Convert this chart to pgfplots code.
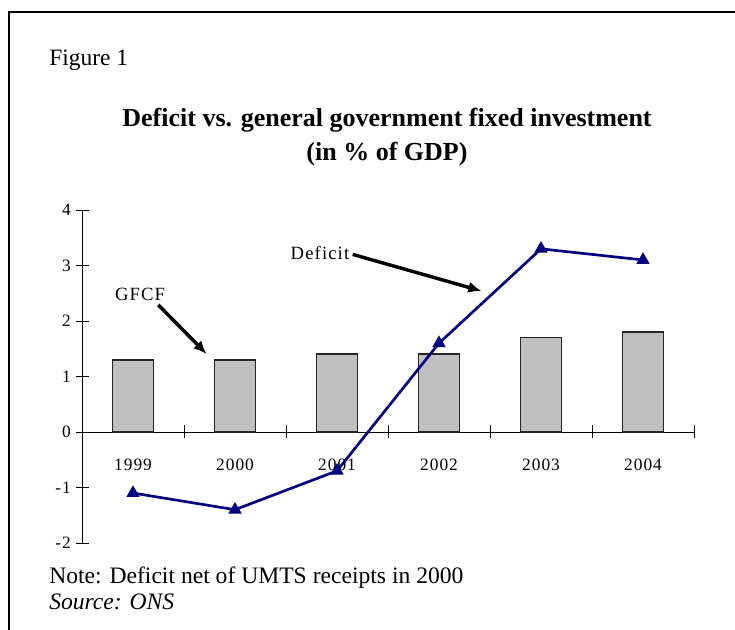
\documentclass[border=0pt]{standalone}
\usepackage{fontspec}
\setmainfont{Liberation Serif}
\usepackage{pgfplots}
\pgfplotsset{compat=1.18}
\usetikzlibrary{arrows.meta}
\definecolor{barfill}{RGB}{192,192,192}
\definecolor{navyline}{RGB}{0,0,128}
\newfontfamily\garafont[LetterSpace=6]{Liberation Serif}
\begin{document}
\begin{tikzpicture}[x=0.75pt,y=0.75pt]
\path[use as bounding box] (0,0) rectangle (735,630);
\draw[line width=1.5pt] (9,0) -- (9,618) -- (735,618);
\node[anchor=base west, font=\fontsize{17.6}{20}\selectfont, inner sep=0] at (49,564) {Figure 1};
\node[anchor=base, font=\fontsize{19.5}{22}\selectfont\bfseries, inner sep=0] at (387,503) {Deficit vs. general government fixed investment};
\node[anchor=base, font=\fontsize{19.5}{22}\selectfont\bfseries, inner sep=0] at (387,469) {(in \% of GDP)};
\node[anchor=base west, font=\fontsize{17.7}{20}\selectfont, inner sep=0] at (49,46) {Note: Deficit net of UMTS receipts in 2000};
\node[anchor=base west, font=\fontsize{17.7}{20}\selectfont\itshape, inner sep=0] at (49,20) {Source: ONS};
\begin{axis}[
  at={(61.5pt,65.25pt)}, anchor=south west,
  scale only axis, width=459pt, height=249.75pt,
  xmin=-0.5, xmax=5.5, ymin=-2, ymax=4,
  axis x line=middle, axis y line=left,
  axis line style={-, black, line width=0.6pt},
  xtick={0,1,2,3,4,5},
  xticklabels={1999,2000,2001,2002,2003,2004},
  major x tick style={draw=none},
  minor xtick={-0.5,0.5,1.5,2.5,3.5,4.5,5.5},
  ytick={-2,-1,0,1,2,3,4},
  tick align=center,
  major tick length=9.75pt, minor tick length=9.75pt,
  tick style={black, line width=0.6pt},
  ticklabel style={font=\garafont\fontsize{13}{15}\selectfont},
  /pgf/number format/assume math mode=true,
  hide obscured x ticks=false, hide obscured y ticks=false,
  xticklabel style={yshift=-12pt},
  clip=false,
]
\addplot[ybar, bar width=0.4, fill=barfill, draw=black!85, line width=1.2pt]
  coordinates {(0,1.3) (1,1.3) (2,1.4) (3,1.4) (4,1.7) (5,1.8)};
\addplot[navyline, line width=2pt, mark=triangle*, mark size=3.8pt, mark options={solid}]
  coordinates {(0,-1.1) (1,-1.4) (2,-0.7) (3,1.6) (4,3.3) (5,3.1)};
\node[font=\garafont\fontsize{14}{16}\selectfont] at (axis cs:1.833,3.225) {Deficit};
\draw[line width=2.6pt, -{Latex[length=10pt,width=8.5pt]}] (axis cs:2.154,3.20) -- (axis cs:3.417,2.54);
\node[font=\garafont\fontsize{14}{16}\selectfont] at (axis cs:0.069,2.47) {GFCF};
\draw[line width=2.6pt, -{Latex[length=10pt,width=8.5pt]}] (axis cs:0.248,2.29) -- (axis cs:0.722,1.405);
\end{axis}
\end{tikzpicture}
\end{document}
